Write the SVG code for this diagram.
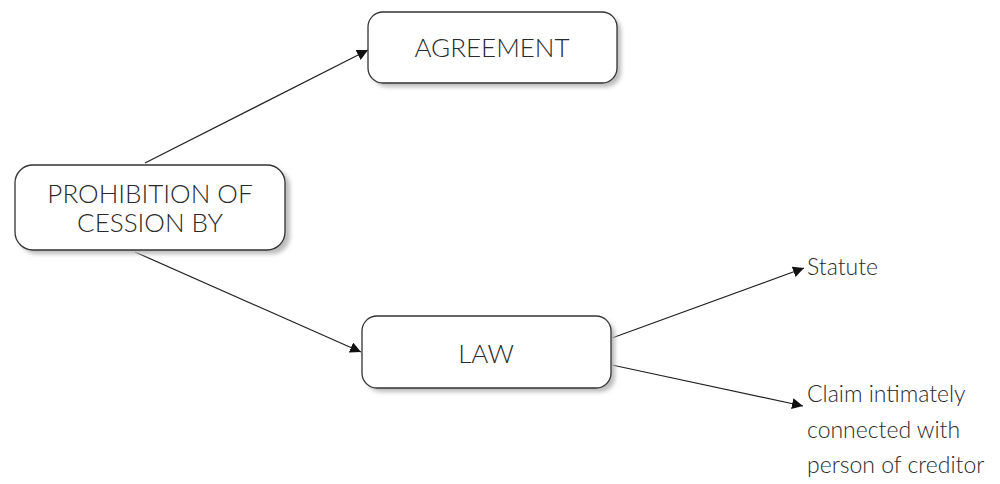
<svg xmlns="http://www.w3.org/2000/svg" width="1000" height="484" viewBox="0 0 1000 484">
<style>
.box{fill:#fff;stroke:#333;stroke-width:1.3}
.sh{fill:#bbb;filter:url(#blur)}
.t{font-family:Lato,"Open Sans",sans-serif;font-weight:300;fill:#2a2a2a;font-size:26px;text-anchor:middle}
.lbl{font-family:Lato,"Open Sans",sans-serif;font-weight:300;fill:#2a2a2a;font-size:23px}
.c{stroke:#222;stroke-width:1.2;fill:none;marker-end:url(#arr)}
</style>
<defs>
<filter id="blur" x="-10%" y="-10%" width="120%" height="130%"><feGaussianBlur stdDeviation="2"/></filter>
<marker id="arr" viewBox="0 0 10 10" refX="10" refY="5" markerWidth="11" markerHeight="11" markerUnits="userSpaceOnUse" orient="auto"><path d="M0,0 L10,5 L0,10 z" fill="#111"/></marker>
</defs>
<g id="connectors">
<line class="c" x1="145" y1="163" x2="368" y2="50"/>
<line class="c" x1="135" y1="252" x2="361" y2="352"/>
<line class="c" x1="612" y1="338" x2="804" y2="268"/>
<line class="c" x1="612" y1="365" x2="803" y2="406"/>
</g>
<g id="prohibition">
<rect class="sh" x="19" y="169" width="271" height="85" rx="18"/>
<rect class="box" x="15" y="165" width="270" height="85" rx="18"/>
<text class="t" x="150" y="203">PROHIBITION OF</text>
<text class="t" x="150" y="232">CESSION BY</text>
</g>
<g id="agreement">
<rect class="sh" x="372" y="16" width="249" height="71" rx="15"/>
<rect class="box" x="368" y="12" width="249" height="71" rx="15"/>
<text class="t" x="492" y="57">AGREEMENT</text>
</g>
<g id="law">
<rect class="sh" x="366" y="320" width="249" height="72" rx="15"/>
<rect class="box" x="362" y="316" width="249" height="72" rx="15"/>
<text class="t" x="486" y="363">LAW</text>
</g>
<g id="statute"><text class="lbl" x="807" y="275">Statute</text></g>
<g id="claim">
<text class="lbl" x="807" y="402">Claim intimately</text>
<text class="lbl" x="807" y="438">connected with</text>
<text class="lbl" x="807" y="473">person of creditor</text>
</g>
</svg>
